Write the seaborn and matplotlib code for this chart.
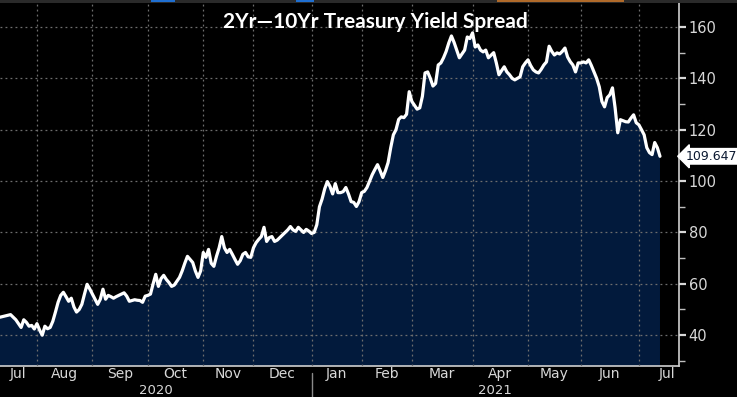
import numpy as np
import pandas as pd
import matplotlib
matplotlib.use("Agg")
import matplotlib.pyplot as plt
import seaborn as sns
from matplotlib import transforms
from matplotlib.patches import Rectangle

# 2Yr-10Yr spread (bp), trading days only
dates = [
    "2020-07-14", "2020-07-16", "2020-07-20", "2020-07-22", "2020-07-24", "2020-07-27", "2020-07-28",
    "2020-07-29", "2020-07-30", "2020-07-31",
    "2020-08-03", "2020-08-04", "2020-08-05", "2020-08-06", "2020-08-07", "2020-08-10", "2020-08-11",
    "2020-08-12", "2020-08-13", "2020-08-14", "2020-08-17", "2020-08-18", "2020-08-19", "2020-08-20",
    "2020-08-21", "2020-08-24", "2020-08-25", "2020-08-26", "2020-08-27", "2020-08-28", "2020-08-31",
    "2020-09-01", "2020-09-02", "2020-09-03", "2020-09-04", "2020-09-08", "2020-09-09", "2020-09-10",
    "2020-09-11", "2020-09-14", "2020-09-15", "2020-09-16", "2020-09-17", "2020-09-18", "2020-09-21",
    "2020-09-22", "2020-09-23", "2020-09-24", "2020-09-25", "2020-09-28", "2020-09-29", "2020-09-30",
    "2020-10-01", "2020-10-02", "2020-10-05", "2020-10-06", "2020-10-07", "2020-10-08", "2020-10-09",
    "2020-10-13", "2020-10-14", "2020-10-15", "2020-10-16", "2020-10-19", "2020-10-20", "2020-10-21",
    "2020-10-22", "2020-10-23", "2020-10-26", "2020-10-27", "2020-10-28", "2020-10-29", "2020-10-30",
    "2020-11-02", "2020-11-03", "2020-11-04", "2020-11-05", "2020-11-06", "2020-11-09", "2020-11-10",
    "2020-11-12", "2020-11-13", "2020-11-16", "2020-11-17", "2020-11-18", "2020-11-19", "2020-11-20",
    "2020-11-23", "2020-11-24", "2020-11-25", "2020-11-27", "2020-11-30",
    "2020-12-01", "2020-12-02", "2020-12-03", "2020-12-04", "2020-12-07", "2020-12-08", "2020-12-09",
    "2020-12-10", "2020-12-11", "2020-12-14", "2020-12-15", "2020-12-16", "2020-12-17", "2020-12-18",
    "2020-12-21", "2020-12-22", "2020-12-23", "2020-12-24", "2020-12-28", "2020-12-29", "2020-12-30",
    "2020-12-31",
    "2021-01-04", "2021-01-05", "2021-01-06", "2021-01-07", "2021-01-08", "2021-01-11", "2021-01-12",
    "2021-01-13", "2021-01-14", "2021-01-15", "2021-01-19", "2021-01-20", "2021-01-21", "2021-01-22",
    "2021-01-25", "2021-01-26", "2021-01-27", "2021-01-28", "2021-01-29",
    "2021-02-01", "2021-02-02", "2021-02-03", "2021-02-04", "2021-02-05", "2021-02-08", "2021-02-09",
    "2021-02-10", "2021-02-11", "2021-02-12", "2021-02-16", "2021-02-17", "2021-02-18", "2021-02-19",
    "2021-02-22", "2021-02-23", "2021-02-24", "2021-02-25", "2021-02-26",
    "2021-03-01", "2021-03-02", "2021-03-03", "2021-03-04", "2021-03-05", "2021-03-08", "2021-03-09",
    "2021-03-10", "2021-03-11", "2021-03-12", "2021-03-15", "2021-03-16", "2021-03-17", "2021-03-18",
    "2021-03-19", "2021-03-22", "2021-03-23", "2021-03-24", "2021-03-25", "2021-03-26", "2021-03-29",
    "2021-03-30", "2021-03-31",
    "2021-04-01", "2021-04-05", "2021-04-06", "2021-04-07", "2021-04-08", "2021-04-09", "2021-04-12",
    "2021-04-13", "2021-04-14", "2021-04-15", "2021-04-16", "2021-04-19", "2021-04-20", "2021-04-21",
    "2021-04-22", "2021-04-23", "2021-04-26", "2021-04-27", "2021-04-28", "2021-04-29", "2021-04-30",
    "2021-05-03", "2021-05-04", "2021-05-05", "2021-05-06", "2021-05-07", "2021-05-10", "2021-05-11",
    "2021-05-12", "2021-05-13", "2021-05-14", "2021-05-17", "2021-05-18", "2021-05-19", "2021-05-20",
    "2021-05-21", "2021-05-24", "2021-05-25", "2021-05-26", "2021-05-27", "2021-05-28",
    "2021-06-01", "2021-06-02", "2021-06-03", "2021-06-04", "2021-06-07", "2021-06-08", "2021-06-09",
    "2021-06-10", "2021-06-11", "2021-06-14", "2021-06-15", "2021-06-16", "2021-06-17", "2021-06-18",
    "2021-06-21", "2021-06-22", "2021-06-23", "2021-06-24", "2021-06-25", "2021-06-28", "2021-06-29",
    "2021-06-30",
    "2021-07-01", "2021-07-02", "2021-07-06", "2021-07-07", "2021-07-08", "2021-07-09", "2021-07-12",
    "2021-07-13", "2021-07-14",
]
spread = [
    47, 47.5, 48, 46, 43, 46, 45,
    43.5, 43.8, 42.4,
    44.5, 42, 40, 43.5, 42.5, 43, 45.4,
    49, 52.8, 55.5, 56.7, 55, 53.2, 54.4,
    51, 49, 50, 52, 56, 59.8, 58,
    56, 54, 52, 54, 57.9, 54, 55.5,
    55, 54.4, 55, 55.5, 56, 56.5, 55.2,
    53.2, 53.5, 53.8, 53.6, 53.5, 52.8, 55.2,
    55.5, 56, 60, 63.7, 59, 62, 63.3,
    61.7, 60.5, 59, 59.5, 61, 62.5, 65,
    68, 70.7, 69.5, 68.3, 65, 62.5, 65,
    72.2, 70.3, 73.4, 68, 66.8, 70.7, 74,
    78.4, 74, 72.2, 73.4, 71.5, 69.5, 67.6,
    69, 71.5, 72.2, 70.5, 70.3,
    74, 76, 77.3, 78.4, 82, 76.5, 78,
    78.4, 76.5, 77, 78, 79, 80, 81,
    82.3, 81, 80.4, 82, 81, 80, 81.2,
    80.5,
    79.6, 80, 83, 90, 93, 97, 99.8,
    97.9, 95, 99, 95.5, 95.5, 95.9, 97.5,
    95, 92, 91.7, 90.1, 92,
    95.5, 96, 97.5, 100, 102.5, 104.5, 106.4,
    104, 101.4, 104, 107.2, 113, 118, 120,
    124, 125, 124.7, 126, 134.8,
    131, 129.5, 128, 128.5, 133, 142.1, 142.5,
    140, 137, 138, 145.2, 146, 148, 150.5,
    153.8, 156.5, 154, 151, 148, 149.5, 151,
    156.1, 155.5,
    157.7, 152.2, 153, 151, 150.3, 151, 148,
    149, 150, 146, 141.4, 143, 144.5, 142.5,
    141.4, 140, 139.4, 140, 140.6, 144.5, 146,
    147.2, 145, 143.3, 142.5, 142.1, 143.5, 145.2,
    146.4, 152.5, 150.5, 149.1, 149.9, 149.5, 150.5,
    151.8, 148.3, 146.5, 145.2, 142.5, 146,
    146, 146.4, 146, 147.2, 145, 142.5, 140,
    136.7, 131, 128.9, 132.5, 133.6, 136.3, 128.5,
    118.8, 123.9, 123.5, 123.1, 123, 124.5, 125.8,
    122.7,
    121.9, 120, 118, 113, 111.1, 110.3, 115,
    113, 109.647,
]
holidays = ["2020-09-07", "2020-10-12", "2020-11-11", "2020-11-26", "2020-12-25", "2021-01-01",
            "2021-01-18", "2021-02-15", "2021-04-02", "2021-05-31", "2021-07-05"]
month_starts = ["2020-08-03", "2020-09-01", "2020-10-01", "2020-11-02", "2020-12-01", "2021-01-04",
                "2021-02-01", "2021-03-01", "2021-04-01", "2021-05-03", "2021-06-01", "2021-07-01",
                "2021-08-02"]
month_labels = ["Jul", "Aug", "Sep", "Oct", "Nov", "Dec", "Jan", "Feb", "Mar", "Apr", "May", "Jun", "Jul"]
year_labels = ["2020", "2021"]
y_ticks = [40, 60, 80, 100, 120, 140, 160]
last_value = spread[-1]
title = "2Yr\u201410Yr Treasury Yield Spread"

# x axis is a trading-day axis, like the terminal chart
start = "2020-07-14"
day = np.busday_count(start, np.array(dates, dtype="datetime64[D]"), holidays=holidays)
df = pd.DataFrame({"day": day, "spread": spread})
mticks = np.busday_count(start, np.array(month_starts, dtype="datetime64[D]"), holidays=holidays)

sns.set_style("dark")
plt.rcParams["font.family"] = ["Liberation Sans Narrow", "DejaVu Sans"]

fig = plt.figure(figsize=(7.37, 3.97), dpi=100, facecolor="black")
ax = fig.add_axes([0, 31 / 397, 679 / 737, 366 / 397])
ax.set_facecolor("black")

xmax = 257.2
ax.fill_between(df["day"], df["spread"], 0, color="#021a3c", lw=0, zorder=1)
sns.lineplot(data=df, x="day", y="spread", color="white", lw=2.3, ax=ax, zorder=3)

ax.set_xlim(0, xmax)
ax.set_ylim(28, 170.5)
ax.set_xlabel("")
ax.set_ylabel("")

# y axis on the right
ax.yaxis.tick_right()
ax.set_yticks(y_ticks)
ax.set_yticks(range(30, 171, 20), minor=True)
ax.tick_params(axis="y", which="major", colors="#d8d8d8", labelsize=10.5, length=5, width=1.6,
               direction="out", pad=2)
ax.tick_params(axis="y", which="minor", colors="#bfbfbf", length=4, width=1, direction="out")

# month boundaries as major ticks, month names centred between them
bounds = np.concatenate([[0], mticks])
ax.set_xticks(mticks[:-1])
ax.set_xticklabels([])
ax.set_xticks((bounds[:-1] + bounds[1:]) / 2, minor=True)
ax.set_xticklabels(month_labels, minor=True)
ax.tick_params(axis="x", which="major", colors="#bfbfbf", length=4, width=1, direction="out")
ax.tick_params(axis="x", which="minor", colors="#d8d8d8", labelsize=10, length=0, pad=1)

ax.grid(True, which="major", color="#6e6e6e", linestyle=(0, (1.5, 2.5)), lw=0.9, zorder=2)
ax.set_axisbelow(False)

for side in ["left", "top"]:
    ax.spines[side].set_visible(False)
for side in ["right", "bottom"]:
    ax.spines[side].set_visible(True)
    ax.spines[side].set_color("#d0d0d0")
    ax.spines[side].set_linewidth(1.2)

# years under the months, split at the turn of the year
trans = transforms.blended_transform_factory(ax.transData, ax.transAxes)
jan = mticks[5]
ax.text(jan / 2, -0.067, year_labels[0], transform=trans, ha="center", va="center",
        color="#d8d8d8", fontsize=9.5)
ax.text((jan + xmax) / 2, -0.067, year_labels[1], transform=trans, ha="center", va="center",
        color="#d8d8d8", fontsize=9.5)
ax.plot([jan, jan], [-0.02, -0.09], transform=trans, color="#8a8a8a", lw=1, clip_on=False)

# last value tag
tag = transforms.blended_transform_factory(ax.transAxes, ax.transData)
ax.text(1.01, last_value, f"{last_value:.3f}", transform=tag, ha="left", va="center",
        color="#0a1830", fontsize=9,
        bbox=dict(boxstyle="larrow,pad=0.1", fc="white", ec="white"))

# title
fig.text(375 / 737, 1 - 22 / 397, title, ha="center", va="center", color="white",
         fontsize=15, fontweight="bold", family=["Lato", "DejaVu Sans"])

# thin header strip of the terminal window
fig.add_artist(Rectangle((0, 1 - 3 / 397), 1, 3 / 397, transform=fig.transFigure,
                         color="#2a2a2a", lw=0))
for x0, w, c in [(151, 24, "#1f6fd1"), (296, 18, "#1f6fd1"), (497, 127, "#b06a2a")]:
    fig.add_artist(Rectangle((x0 / 737, 1 - 2 / 397), w / 737, 2 / 397, transform=fig.transFigure,
                             color=c, lw=0))

fig.savefig("out.png", dpi=100, facecolor="black")
